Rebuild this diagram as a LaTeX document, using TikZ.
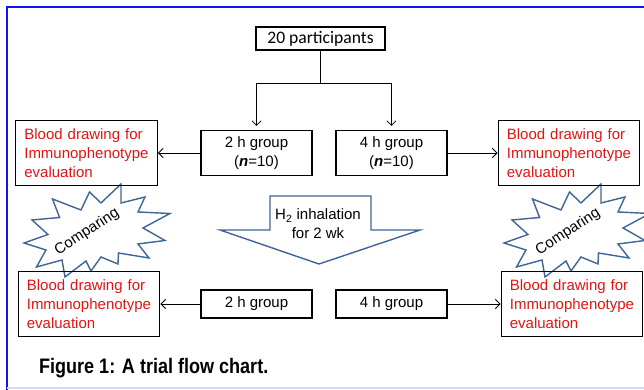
\documentclass[tikz,border=0pt]{standalone}
\usepackage{fontspec}
\setmainfont{Liberation Sans}
\newfontfamily\partfont{Carlito}
\newfontfamily\capfont[FakeStretch=0.86]{Liberation Sans}
\usetikzlibrary{shapes.geometric, arrows, arrows.meta}
\definecolor{bloodred}{RGB}{225,20,20}
\definecolor{burstblue}{RGB}{65,100,150}
\definecolor{frameblue}{RGB}{20,20,245}
\definecolor{framelav}{RGB}{215,215,250}
\tikzstyle{partbox} = [rectangle, minimum width=3.87cm, minimum height=0.69cm, text centered, draw=black, line width=0.9pt]
\tikzstyle{group} = [rectangle, minimum width=3.33cm, minimum height=1.35cm, align=center, draw=black, line width=0.9pt]
\tikzstyle{groupb} = [rectangle, minimum width=3.33cm, minimum height=0.84cm, text centered, draw=black, line width=0.9pt]
\tikzstyle{blood} = [rectangle, minimum height=1.95cm, text width=3.73cm, inner xsep=0.26cm, align=left, text=bloodred, draw=black, line width=0.9pt]
\tikzstyle{burstline} = [draw=burstblue, line width=1.2pt, line join=miter]
\tikzstyle{arrow} = [-{Straight Barb[length=1.4mm, width=2.8mm]}, line width=0.7pt]
% explosion outline, in pixels of the sheet
\newcommand{\burstpath}{(101,203) -- (89.5,192) -- (81,210) -- (52.5,199) -- (59.6,217.5) -- (32,220)
  -- (48,234.5) -- (24,243) -- (46,250) -- (36.5,267) -- (62,260) -- (65,277) -- (86,261) -- (91,271)
  -- (101,257) -- (118,264) -- (118.5,253) -- (149,258) -- (138,244) -- (165,240.5) -- (143,228)
  -- (170,213.5) -- (138,212) -- (145,197) -- (121,203) -- (121,184) -- cycle}

\begin{document}
\begin{tikzpicture}[node distance=2cm, font=\fontsize{12.8}{16.2}\selectfont]
        \useasboundingbox (0,0) rectangle (19.32,-11.7);
        % frame
        \draw [frameblue, line width=1.5pt] (0.21,-11.7) -- (0.21,-0.21) -- (19.32,-0.21);
        \draw [framelav, line width=1pt] (0.21,-11.64) -- (19.32,-11.64);

        % comparing bursts
        \begin{scope}[x=0.03cm, y=-0.03cm]
                \draw [burstline] \burstpath;
        \end{scope}
        \begin{scope}[x=0.03cm, y=-0.03cm, xshift=14.4cm]
                \draw [burstline] \burstpath;
        \end{scope}

        \node (part) [partbox] at (9.615,-1.155) {\partfont\fontsize{15}{18}\selectfont 20 participants};
        \node (g2) [group, below of=part, xshift=-1.92cm, yshift=-1.435cm] {2 h group\\(\textbf{\textit{n}}=10)};
        \node (g4) [group, right of=g2, xshift=2.05cm] {4 h group\\(\textbf{\textit{n}}=10)};
        \node (bl1) [blood, left of=g2, xshift=-3.1cm] {Blood drawing for Immunophenotype evaluation};
        \node (bl2) [blood, right of=g4, xshift=3.325cm] {Blood drawing for Immunophenotype evaluation};
        \node (g2b) [groupb, below of=g2, yshift=-2.53cm] {2 h group};
        \node (g4b) [groupb, below of=g4, yshift=-2.53cm] {4 h group};
        \node (bl3) [blood, below of=bl1, xshift=0.075cm, yshift=-2.53cm] {Blood drawing for Immunophenotype evaluation};
        \node (bl4) [blood, below of=bl2, xshift=0.09cm, yshift=-2.53cm] {Blood drawing for Immunophenotype evaluation};

        % split into two groups
        \draw [line width=0.7pt] (part.south) -- ++(0,-0.99) coordinate (split);
        \draw [arrow, shorten >=0.12cm] (split) -| (g2);
        \draw [arrow, shorten >=0.12cm] (split) -| (g4);

        \draw [arrow] (g2) -- (bl1);
        \draw [arrow] (g4) -- (bl2);
        \draw [arrow] (g2b) -- (bl3);
        \draw [arrow] (g4b) -- (bl4);

        % inhalation arrow
        \draw [burstblue, line width=1.2pt] (8.1,-5.88) -- (11.13,-5.88) -- (11.13,-6.9) -- (12.6,-6.9)
                -- (9.57,-7.92) -- (6.6,-6.9) -- (8.1,-6.9) -- cycle;
        \node (inh) at (9.54,-6.72) [align=center] {H\textsubscript{2} inhalation\\for 2 wk};

        \node (cmp1t) [rotate=33] at (2.61,-6.96) {Comparing};
        \node (cmp2t) [rotate=33] at (17.04,-6.96) {Comparing};

        \node (cap) [anchor=west] at (1.05,-11.04) {\capfont\bfseries\fontsize{17.9}{20}\selectfont Figure 1: A trial flow chart.};
        \end{tikzpicture}
\end{document}
